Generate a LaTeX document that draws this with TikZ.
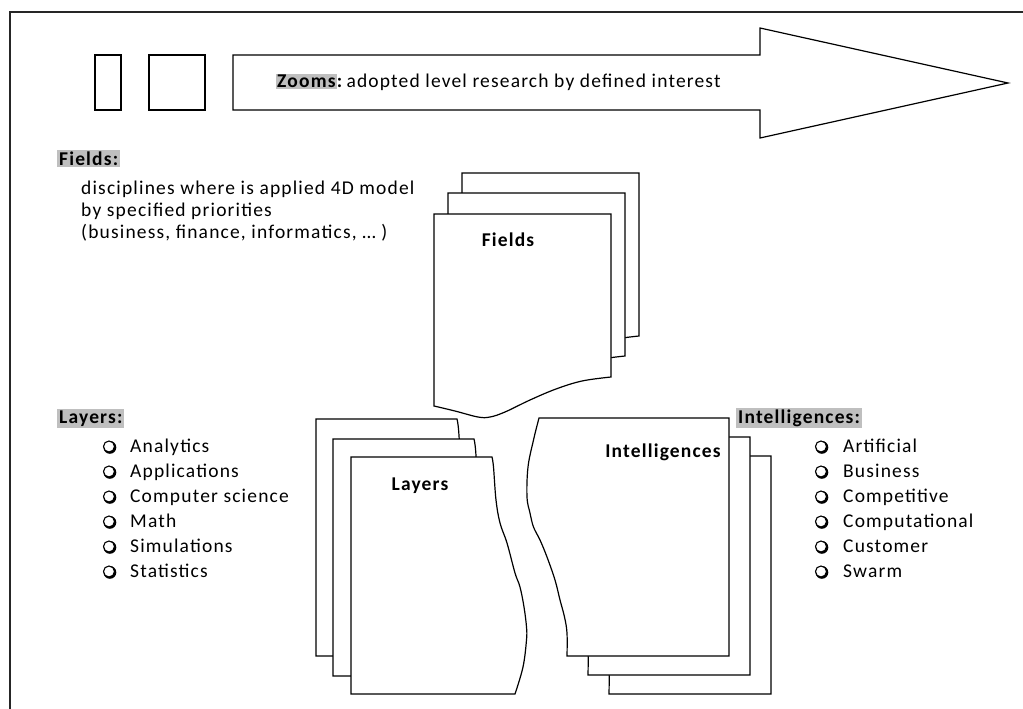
\documentclass[tikz,border=0pt]{standalone}
\usepackage{fontspec}
\setmainfont{Carlito}[LetterSpace=6]
\begin{document}
\begin{tikzpicture}[x=1pt,y=-1pt,
  page/.style={draw=black, line width=1.2pt, fill=white, line join=miter},
  boxshape/.style={draw=black, line width=1.2pt, fill=white},
  bodytext/.style={font=\fontsize{19.5}{23}\selectfont, inner sep=0pt},
  graylab/.style={font=\fontsize{19.5}{23}\selectfont\bfseries, fill=black!25, inner xsep=2pt, inner ysep=1.5pt},
  doctitle/.style={font=\fontsize{19.5}{23}\selectfont\bfseries, inner sep=0pt},
  listitem/.style={bodytext, anchor=base west},
  bulletmark/.style={circle, draw=black, fill=white, line width=1.1pt, minimum size=11pt, inner sep=0pt},
  bulletshadow/.style={fill=black},
]
\useasboundingbox (0,0) rectangle (1023,709);
% frame
\draw[line width=2pt, black!85] (1023,12) -- (9.5,12) -- (9.5,709);

% zoom blocks and arrow
\draw[boxshape] (95,55) rectangle (121,110);
\draw[boxshape] (149,55) rectangle (205,110);
\draw[boxshape, line join=miter] (233,55) -- (760,55) -- (760,28) -- (1008,83) -- (760,138) -- (760,110) -- (233,110) -- cycle;
\node[graylab, anchor=base west, inner sep=1pt] (zoomlab) at (276,87.5) {Zooms};
\node[bodytext, anchor=base west] (zoomtxt) at (zoomlab.base east) {\textbf{:}\hspace{3pt}adopted level research by defined interest};

% Fields text
\node[graylab, anchor=base west] (fieldslab) at (57,165) {Fields:};
\node[listitem] (f1) at (81,194) {disciplines where is applied 4D model};
\node[listitem] (f2) at (81,216) {by specified priorities};
\node[listitem] (f3) at (81,238) {(business, finance, informatics, … )};

% Fields pages
\foreach \dx/\dy in {28/-41, 14/-21, 0/0}{
  \begin{scope}[shift={(\dx,\dy)}]
    \draw[page] (434,214) -- (611,214) -- (611,377)
      -- plot[smooth, tension=0.6] coordinates {(611,377) (582,381) (556,389) (530,400) (505,412) (490,417) (478,417) (455,411) (434,406)} -- cycle;
  \end{scope}
}
\node[doctitle] (fieldsT) at (508,240) {Fields};

% Layers pages
\foreach \dx/\dy in {-35/-38, -18/-18, 0/0}{
  \begin{scope}[shift={(\dx,\dy)}]
    \draw[page] (351,457) -- (492,457)
      -- plot[smooth, tension=0.6] coordinates {(492,457) (493.5,467) (496,500) (500,523) (507,543) (515,573) (520,587) (524,607) (526.5,627) (526.5,640) (523,667) (515,694)}
      -- (351,694) -- cycle;
  \end{scope}
}
\node[doctitle] (layersT) at (420,486) {Layers};

% Intelligences pages
\foreach \dx/\dy in {42/38, 21/19, 0/0}{
  \begin{scope}[shift={(\dx,\dy)}]
    \draw[page] (539,418) -- (729,418) -- (729,656) -- (567,656)
      -- plot[smooth, tension=0.6] coordinates {(567,656) (567,633) (564.5,617) (560,600) (555,580) (547,557) (540,540) (533.5,527) (530,513) (527,497) (528,467) (533.5,440) (539,418)} -- cycle;
  \end{scope}
}
\node[doctitle] (intT) at (663,452) {Intelligences};

% Layers list
\node[graylab, anchor=base west] (layerslab) at (57,423) {Layers:};
\foreach \t [count=\i from 0] in {Analytics, Applications, Computer science, Math, Simulations, Statistics}{
  \fill[bulletshadow] (109.9,{447.4+25*\i}) circle (6.4);
  \node[bulletmark] (lb\i) at (109,446.5+25*\i) {};
  \node[listitem] (l\i) at (130,452+25*\i) {\t};
}

% Intelligences list
\node[graylab, anchor=base west] (intlab) at (736,423) {Intelligences:};
\foreach \t [count=\i from 0] in {Artificial, Business, Competitive, Computational, Customer, Swarm}{
  \fill[bulletshadow] (821.9,{447.4+25*\i}) circle (6.4);
  \node[bulletmark] (ib\i) at (821,446.5+25*\i) {};
  \node[listitem] (i\i) at (843,452+25*\i) {\t};
}
\end{tikzpicture}
\end{document}
